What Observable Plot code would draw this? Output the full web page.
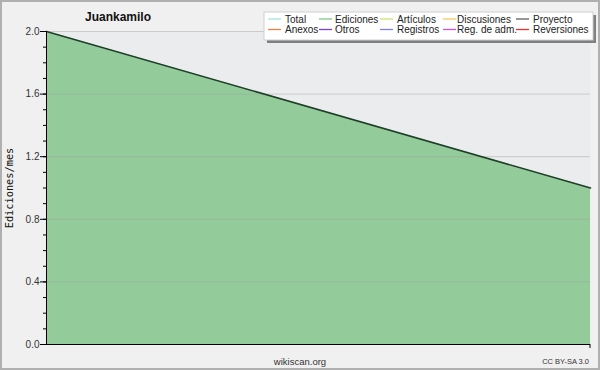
<!DOCTYPE html>
<html>
<head>
<meta charset="utf-8">
<script src="https://cdn.jsdelivr.net/npm/d3@7"></script>
<script src="https://cdn.jsdelivr.net/npm/@observablehq/plot@0.6"></script>
<style>
  html, body { margin: 0; padding: 0; background: #f0f0f0; }
  #chart { width: 600px; height: 370px; }
</style>
</head>
<body>
<div id="chart"></div>
<script>
// Data
const months = [0, 1];
const ediciones = [2.0, 1.0];
const yMajorTicks = [0, 0.4, 0.8, 1.2, 1.6, 2.0];
const yMinorTicks = d3.range(0, 20.5, 1).map(d => d / 10);
const legendNames = ["Total", "Ediciones", "Artículos", "Discusiones", "Proyecto",
                     "Anexos", "Otros", "Registros", "Reg. de adm.", "Reversiones"];
const legendColors = ["#a8e4e0", "#80c888", "#c8e870", "#f8c860", "#606060",
                      "#f08040", "#8040d0", "#8080f0", "#d050e0", "#e83030"];
const title = "Juankamilo";
const yLabel = "Ediciones/mes";

const data = months.map((m, i) => ({ x: m, y: ediciones[i] }));

const plot = Plot.plot({
  width: 600,
  height: 370,
  marginLeft: 46,
  marginRight: 10,
  marginTop: 31,
  marginBottom: 26,
  style: { background: "transparent", fontFamily: "Liberation Sans, sans-serif" },
  x: { domain: [0, 1], axis: null },
  y: { domain: [0, 2], axis: null },
  marks: [
    Plot.frame({ fill: "#ebecee", stroke: null }),
    Plot.areaY(data, { x: "x", y: "y", fill: "#93cc9a" }),
    Plot.ruleY(yMajorTicks.filter(d => d > 0), { stroke: "#a0a0a0", strokeOpacity: 0.45 }),
    Plot.lineY(data, { x: "x", y: "y", stroke: "#1f3f28", strokeWidth: 1.6 }),
    Plot.axisY(yMinorTicks, { tickSize: 3, text: null, stroke: "#000", label: null }),
    Plot.axisY(yMajorTicks, { tickSize: 6, tickPadding: 1, tickFormat: d3.format(".1f"),
      fontSize: 10, fill: "#333", stroke: "#000", label: null }),
    Plot.ruleX([0], { stroke: "#000" }),
    Plot.ruleY([0], { stroke: "#000" })
  ]
});

const svg = d3.select(plot);
// outer border
svg.insert("rect", ":first-child")
  .attr("x", 1).attr("y", 1).attr("width", 598).attr("height", 368)
  .attr("fill", "#f0f0f0").attr("stroke", "#b0b0b0").attr("stroke-width", 2);

// right tick at end of x axis
svg.append("line").attr("x1", 590).attr("x2", 590).attr("y1", 344).attr("y2", 348)
  .attr("stroke", "#000");

// title
svg.append("text").attr("x", 118).attr("y", 21).attr("text-anchor", "middle")
  .attr("font-family", "Liberation Sans, sans-serif").attr("font-weight", "bold")
  .attr("font-size", 12).attr("fill", "#111").text(title);

// y label
svg.append("text").attr("transform", "translate(13,188) rotate(-90)")
  .attr("text-anchor", "middle").attr("font-family", "DejaVu Sans Mono, monospace")
  .attr("font-size", 10.3).attr("fill", "#111").text(yLabel);

// footer
svg.append("text").attr("x", 300).attr("y", 365).attr("text-anchor", "middle")
  .attr("font-family", "Liberation Sans, sans-serif").attr("font-size", 9.5)
  .attr("fill", "#333").text("wikiscan.org");
svg.append("text").attr("x", 589).attr("y", 364).attr("text-anchor", "end")
  .attr("font-family", "Liberation Sans, sans-serif").attr("font-size", 7.5)
  .attr("fill", "#333").text("CC BY-SA 3.0");

// legend
const lg = svg.append("g").attr("text-anchor", "start");
lg.append("rect").attr("x", 267).attr("y", 15).attr("width", 329).attr("height", 28)
  .attr("fill", "#808080");
lg.append("rect").attr("x", 264).attr("y", 12).attr("width", 329).attr("height", 28)
  .attr("fill", "#ffffff").attr("stroke", "#d0d0d0");
const colX = [268, 319, 380, 443, 516];
const textX = [285, 335, 397, 457, 533];
const rowY = [19, 29.5];
legendNames.forEach((name, i) => {
  const c = i % 5, r = Math.floor(i / 5);
  lg.append("line").attr("x1", colX[c]).attr("x2", colX[c] + 13)
    .attr("y1", rowY[r]).attr("y2", rowY[r])
    .attr("stroke", legendColors[i]).attr("stroke-width", 1.3);
  lg.append("text").attr("x", textX[c]).attr("y", rowY[r] + 3.8)
    .attr("text-anchor", "start")
    .attr("font-family", "Liberation Sans, sans-serif").attr("font-size", 10)
    .attr("fill", "#222").text(name);
});

document.getElementById("chart").appendChild(plot);
</script>
</body>
</html>
